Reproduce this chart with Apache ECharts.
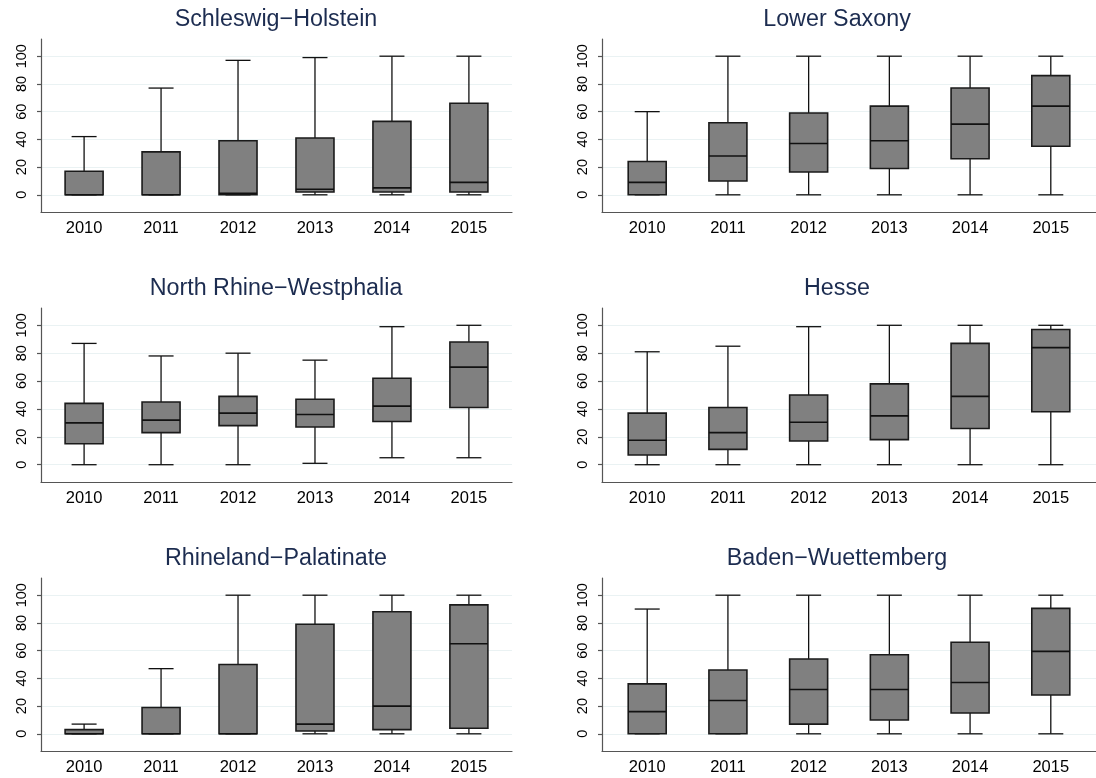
<!DOCTYPE html>
<html>
<head>
<meta charset="utf-8">
<script src="https://cdn.jsdelivr.net/npm/echarts@6/dist/echarts.min.js"></script>
<style>
html,body{margin:0;padding:0;background:#fff;}
#chart{width:1096px;height:778px;}
</style>
</head>
<body>
<div id="chart"></div>
<script>
// ---- data ----
const years = ['2010', '2011', '2012', '2013', '2014', '2015'];
const yTicks = [0, 20, 40, 60, 80, 100];
const stateNames = ['Schleswig\u2212Holstein', 'Lower Saxony', 'North Rhine\u2212Westphalia', 'Hesse', 'Rhineland\u2212Palatinate', 'Baden\u2212Wuettemberg'];
// each row: [min, Q1, median, Q3, max]
const schleswigHolstein = [[0,0,0,17,42],[0,0,0,31,77],[0,0,1,39,97],[0,2,4,41,99],[0,2,5,53,100],[0,2,9,66,100]];
const lowerSaxony = [[0,0,9,24,60],[0,10,28,52,100],[0,16.5,37,59,100],[0,19,39,64,100],[0,26,51,77,100],[0,35,64,86,100]];
const northRhineWestphalia = [[0,15,30,44,87],[0,23,32,45,78],[0,28,37,49,80],[1,27,36,47,75],[5,31,42,62,99],[5,41,70,88,100]];
const hesse = [[0,7,17.5,37,81],[0,11,23,41,85],[0,17,30.5,50,99],[0,18,35,58,100],[0,26,49,87,100],[0,38,84,97,100]];
const rhinelandPalatinate = [[0,0,0,3,7],[0,0,0,19,47],[0,0,0,50,100],[0,2,7,79,100],[0,3,20,88,100],[0,4,65,93,100]];
const badenWuerttemberg = [[0,0,16,36,90],[0,0,24,46,100],[0,7,32,54,100],[0,10,32,57,100],[0,15,37,66,100],[0,28,59.5,90.5,100]];
const stateData = [schleswigHolstein, lowerSaxony, northRhineWestphalia, hesse, rhinelandPalatinate, badenWuerttemberg];

// ---- layout ----
const colLeft = [41, 602];
const colWidth = [471, 496];
const rowTop = [39, 308, 578];
const rowHeight = [173, 174, 173];
const titleX = [276, 837];
const titleY = [20, 289, 558.5];

const FONT = '"Liberation Sans", Arial, Helvetica, sans-serif';
const BOX_W = 38, CAP_W = 25;

const grids = [], xAxes = [], yAxes = [], titles = [], series = [];
stateData.forEach((vals, i) => {
  const c = i % 2, r = Math.floor(i / 2);
  grids.push({left: colLeft[c], top: rowTop[r], width: colWidth[c], height: rowHeight[r], containLabel: false});
  xAxes.push({
    type: 'value', gridIndex: i, min: 0.44, max: 6.56, position: 'bottom',
    axisLine: {show: true, onZero: false, lineStyle: {color: '#555', width: 1.2}},
    axisTick: {show: false},
    splitLine: {show: false},
    axisLabel: {
      customValues: years.map((y, k) => k + 1),
      formatter: v => years[Math.round(v) - 1] || '',
      color: '#000', fontFamily: FONT, fontSize: 16.5, margin: 8
    }
  });
  yAxes.push({
    type: 'value', gridIndex: i, min: -12.4, max: 112.4, position: 'left',
    axisLine: {show: true, onZero: false, lineStyle: {color: '#555', width: 1.2}},
    axisTick: {show: true, length: 4, customValues: yTicks, lineStyle: {color: '#555', width: 1.2}},
    splitLine: {show: true, lineStyle: {color: '#eaf2f3', width: 1}},
    axisLabel: {customValues: yTicks, rotate: 90, color: '#000', fontFamily: FONT, fontSize: 14.5, margin: 12}
  });
  titles.push({
    text: stateNames[i], left: titleX[c], top: titleY[r], padding: 0,
    textAlign: 'center', textVerticalAlign: 'middle',
    textStyle: {color: '#1c2c50', fontFamily: FONT, fontSize: 23.3, fontWeight: 'normal'}
  });
  series.push({
    type: 'custom', xAxisIndex: i, yAxisIndex: i,
    data: vals.map((v, k) => [k + 1].concat(v)),
    encode: {x: 0, y: [1, 2, 3, 4, 5]},
    renderItem: function (params, api) {
      const x = api.value(0);
      const pMin = api.coord([x, api.value(1)]);
      const pQ1 = api.coord([x, api.value(2)]);
      const pMed = api.coord([x, api.value(3)]);
      const pQ3 = api.coord([x, api.value(4)]);
      const pMax = api.coord([x, api.value(5)]);
      const cx = pMin[0];
      const lineStyle = {stroke: '#111', lineWidth: 1.3};
      return {
        type: 'group',
        children: [
          {type: 'line', shape: {x1: cx, y1: pMin[1], x2: cx, y2: pQ1[1]}, style: lineStyle},
          {type: 'line', shape: {x1: cx, y1: pQ3[1], x2: cx, y2: pMax[1]}, style: lineStyle},
          {type: 'line', shape: {x1: cx - CAP_W / 2, y1: pMin[1], x2: cx + CAP_W / 2, y2: pMin[1]}, style: lineStyle},
          {type: 'line', shape: {x1: cx - CAP_W / 2, y1: pMax[1], x2: cx + CAP_W / 2, y2: pMax[1]}, style: lineStyle},
          {type: 'rect', shape: {x: cx - BOX_W / 2, y: pQ3[1], width: BOX_W, height: pQ1[1] - pQ3[1]},
            style: {fill: '#808080', stroke: '#1a1a1a', lineWidth: 1.6}},
          {type: 'line', shape: {x1: cx - BOX_W / 2, y1: pMed[1], x2: cx + BOX_W / 2, y2: pMed[1]},
            style: {stroke: '#111', lineWidth: 1.6}}
        ]
      };
    }
  });
});

const chart = echarts.init(document.getElementById('chart'), null, {renderer: 'canvas'});
chart.setOption({
  backgroundColor: '#fff',
  animation: false,
  title: titles,
  grid: grids,
  xAxis: xAxes,
  yAxis: yAxes,
  series: series
});
</script>
</body>
</html>
